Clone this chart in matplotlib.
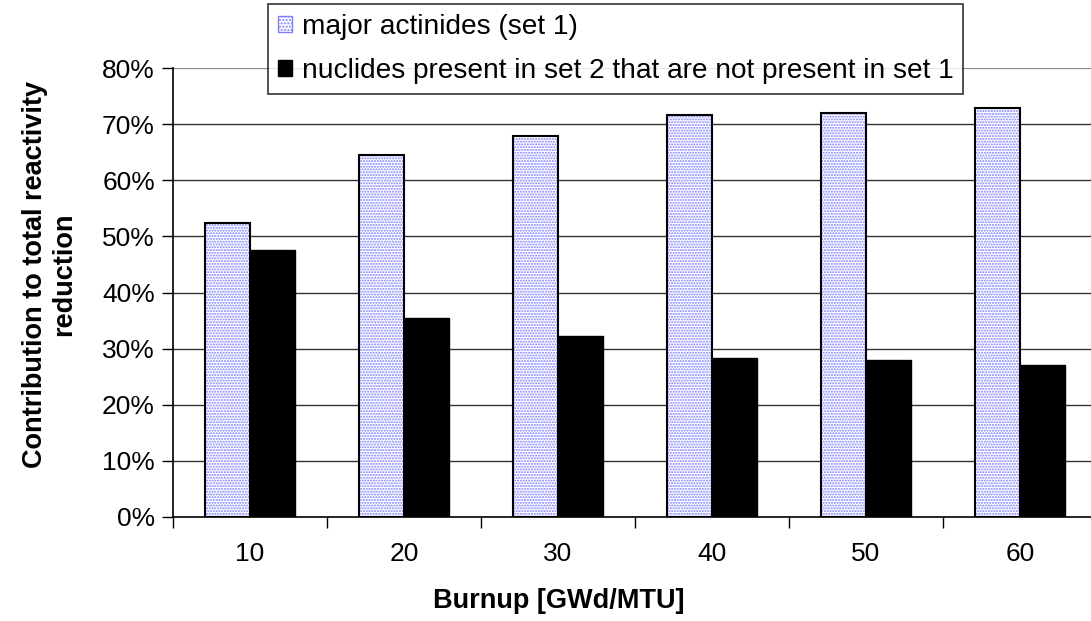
import matplotlib.pyplot as plt
import numpy as np

plt.rcParams['font.family'] = ['Liberation Sans', 'DejaVu Sans']

burnup = ['10', '20', '30', '40', '50', '60']
major_actinides = [52.4, 64.5, 67.8, 71.6, 72.0, 72.9]
other_nuclides = [47.6, 35.5, 32.2, 28.4, 28.0, 27.1]
y_ticks = [0, 10, 20, 30, 40, 50, 60, 70, 80]

W, H = 1091, 621
fig = plt.figure(figsize=(W / 100, H / 100), dpi=100)
ax = fig.add_axes([173 / W, (H - 517) / H, (1097 - 173) / W, (517 - 68) / H])

x = np.arange(len(burnup))
bw = 0.29

# dotted fill first, then black outline on top
ax.bar(x - bw / 2, major_actinides, bw, color='white', edgecolor='#7f7fff',
       hatch='......', linewidth=0, zorder=2)
ax.bar(x - bw / 2, major_actinides, bw, fill=False, edgecolor='black',
       linewidth=1.5, zorder=3)
ax.bar(x + bw / 2, other_nuclides, bw, color='black', edgecolor='black',
       linewidth=1, zorder=3)

ax.set_xlim(-0.5, len(burnup) - 0.5)
ax.set_ylim(0, 80)
ax.set_yticks(y_ticks)
ax.set_yticklabels([f'{v}%' for v in y_ticks])
ax.set_xticks(x)
ax.set_xticklabels(burnup)
ax.set_xticks(np.arange(len(burnup) + 1) - 0.5, minor=True)
ax.tick_params(axis='x', which='major', length=0, pad=18, labelsize=19)
ax.tick_params(axis='x', which='minor', length=8, width=1, direction='out')
ax.tick_params(axis='y', length=8, width=1, direction='out', labelsize=19, pad=5)

for v in y_ticks[1:-1]:
    ax.axhline(v, color='#333333', linewidth=1, zorder=1)
ax.axhline(80, color='#888888', linewidth=1.6, zorder=1)

for s in ['top', 'right']:
    ax.spines[s].set_visible(False)
ax.spines['left'].set_linewidth(1.2)
ax.spines['bottom'].set_linewidth(1.2)

fig.text(50 / W, 1 - 274 / H, 'Contribution to total reactivity\nreduction',
         rotation=90, ha='center', va='center', fontsize=19.5, fontweight='bold',
         linespacing=1.15)
fig.text(559 / W, 1 - 601 / H, 'Burnup [GWd/MTU]', ha='center', va='center',
         fontsize=19.5, fontweight='bold')

handles = [
    plt.Rectangle((0, 0), 1, 1, facecolor='white', edgecolor='#7f7fff', hatch='.....'),
    plt.Rectangle((0, 0), 1, 1, facecolor='black', edgecolor='black'),
]
leg = fig.legend(handles, ['major actinides (set 1)',
                           'nuclides present in set 2 that are not present in set 1'],
                 loc='upper left', bbox_to_anchor=(268 / W, 1 - 4 / H),
                 fontsize=20.2, frameon=True, fancybox=False, borderpad=0.35,
                 handlelength=0.5, handleheight=0.5, handletextpad=0.35,
                 labelspacing=0.66, borderaxespad=0)
leg.get_frame().set_edgecolor('black')
leg.get_frame().set_linewidth(1.2)

fig.savefig('out.png', dpi=100)
